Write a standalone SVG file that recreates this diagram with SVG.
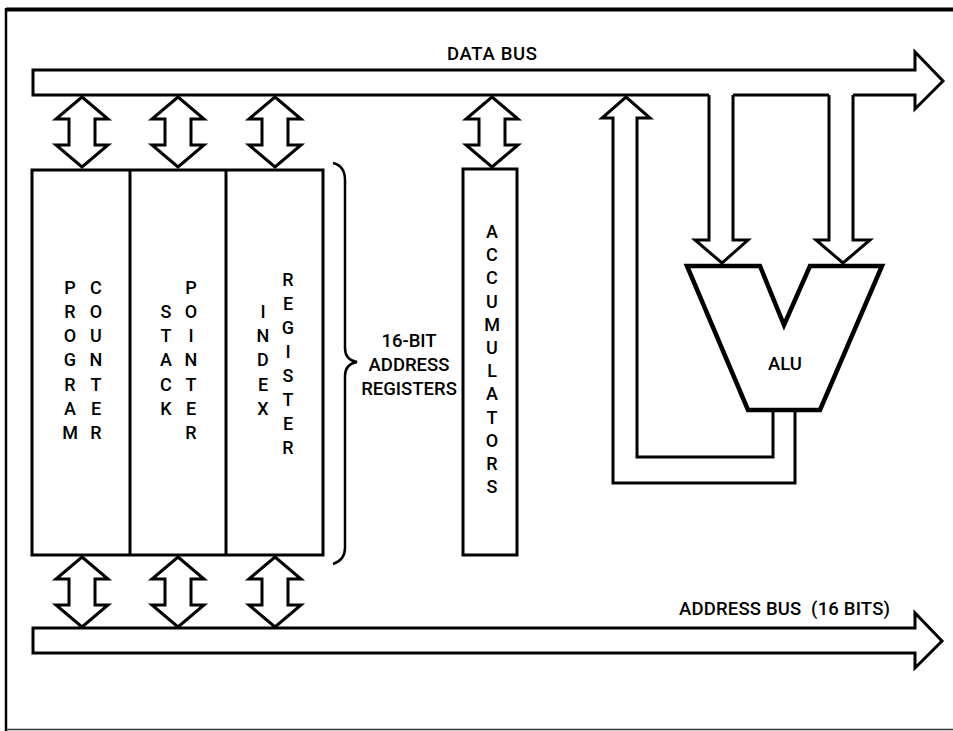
<svg xmlns="http://www.w3.org/2000/svg" xmlns:xlink="http://www.w3.org/1999/xlink" width="953" height="731" viewBox="0 0 953 731">
<style>
.ln{fill:none;stroke:#000;stroke-width:3;stroke-linejoin:miter}
.box{fill:#fff;stroke:#000;stroke-width:3}
.t{font-family:Roboto,"Liberation Sans",Arial,sans-serif;font-weight:500;font-size:18.5px;fill:#000}
.v{font-family:Roboto,"Liberation Sans",Arial,sans-serif;font-weight:500;font-size:18px;fill:#000;text-anchor:middle}
</style>
<defs>
<path id="bi" d="M0,0 L26,22 L13,22 L13,48 L26,48 L0,70 L-26,48 L-13,48 L-13,22 L-26,22 Z" fill="#fff" stroke="#000" stroke-width="3" stroke-linejoin="miter"/>
</defs>
<rect width="953" height="731" fill="#fff"/>
<g id="frame">
<line x1="6" y1="9.5" x2="953" y2="9.5" stroke="#000" stroke-width="4"/>
<line x1="6" y1="8" x2="6" y2="731" stroke="#000" stroke-width="2.5"/>
<line x1="6" y1="729.5" x2="953" y2="729.5" stroke="#333" stroke-width="1.5"/>
</g>
<g id="data-bus">
<path class="ln" d="M709,95 L33,95 L33,70 L915,70 L915,52 L943,81 L915,109 L915,95 L853,95"/>
<path class="ln" d="M733,95 L829,95"/>
<text class="t" x="447" y="60" textLength="90">DATA BUS</text>
</g>
<g id="address-bus">
<path class="ln" d="M33,628 L915,628 L915,613 L942,641 L915,668 L915,653 L33,653 Z"/>
<text class="t" x="679" y="615" textLength="211" xml:space="preserve">ADDRESS BUS  (16 BITS)</text>
</g>
<g id="address-registers">
<rect class="box" x="32" y="170" width="291" height="385"/>
<line class="ln" x1="130" y1="170" x2="130" y2="555"/>
<line class="ln" x1="226" y1="170" x2="226" y2="555"/>
<g id="program-counter">
<text class="v"><tspan x="70" y="294">P</tspan><tspan x="70" y="318">R</tspan><tspan x="70" y="342">O</tspan><tspan x="70" y="366">G</tspan><tspan x="70" y="391">R</tspan><tspan x="70" y="415">A</tspan><tspan x="70" y="439">M</tspan></text>
<text class="v"><tspan x="96" y="294">C</tspan><tspan x="96" y="318">O</tspan><tspan x="96" y="342">U</tspan><tspan x="96" y="366">N</tspan><tspan x="96" y="391">T</tspan><tspan x="96" y="415">E</tspan><tspan x="96" y="439">R</tspan></text>
</g>
<g id="stack-pointer">
<text class="v"><tspan x="166" y="318">S</tspan><tspan x="166" y="342">T</tspan><tspan x="166" y="366">A</tspan><tspan x="166" y="391">C</tspan><tspan x="166" y="415">K</tspan></text>
<text class="v"><tspan x="191" y="294">P</tspan><tspan x="191" y="318">O</tspan><tspan x="191" y="342">I</tspan><tspan x="191" y="366">N</tspan><tspan x="191" y="391">T</tspan><tspan x="191" y="415">E</tspan><tspan x="191" y="439">R</tspan></text>
</g>
<g id="index-register">
<text class="v"><tspan x="263" y="318">I</tspan><tspan x="263" y="342">N</tspan><tspan x="263" y="366">D</tspan><tspan x="263" y="391">E</tspan><tspan x="263" y="415">X</tspan></text>
<text class="v"><tspan x="288" y="286">R</tspan><tspan x="288" y="310">E</tspan><tspan x="288" y="334">G</tspan><tspan x="288" y="358">I</tspan><tspan x="288" y="382">S</tspan><tspan x="288" y="406">T</tspan><tspan x="288" y="430">E</tspan><tspan x="288" y="454">R</tspan></text>
</g>
</g>
<g id="brace-label">
<path d="M333,163 Q345,166 345,180 L345,348 Q345,360 357,362 Q345,364 345,376 L345,548 Q345,560 333,564" fill="none" stroke="#000" stroke-width="2.5"/>
<text class="t" text-anchor="middle"><tspan x="409" y="347">16-BIT</tspan><tspan x="409" y="371">ADDRESS</tspan><tspan x="409" y="395">REGISTERS</tspan></text>
</g>
<g id="accumulators">
<rect class="box" x="463" y="169" width="54" height="386"/>
<text class="v"><tspan x="492" y="238">A</tspan><tspan x="492" y="261">C</tspan><tspan x="492" y="284">C</tspan><tspan x="492" y="308">U</tspan><tspan x="492" y="331">M</tspan><tspan x="492" y="354">U</tspan><tspan x="492" y="377">L</tspan><tspan x="492" y="400">A</tspan><tspan x="492" y="424">T</tspan><tspan x="492" y="447">O</tspan><tspan x="492" y="470">R</tspan><tspan x="492" y="493">S</tspan></text>
</g>
<g id="alu">
<path d="M687,266 L760,266 L784,325 L810,266 L882,266 L820,410 L748,410 Z" fill="#fff" stroke="#000" stroke-width="4.5" stroke-linejoin="miter"/>
<text class="t" x="785" y="370" text-anchor="middle">ALU</text>
</g>
<g id="connectors">
<use xlink:href="#bi" x="82" y="97"/>
<use xlink:href="#bi" x="178" y="97"/>
<use xlink:href="#bi" x="275" y="97"/>
<use xlink:href="#bi" x="492" y="97"/>
<use xlink:href="#bi" x="82" y="557"/>
<use xlink:href="#bi" x="178" y="557"/>
<use xlink:href="#bi" x="275" y="557"/>
<path class="ln" d="M709,95 L709,240 L695,240 L722,263 L748,240 L733,240 L733,95"/>
<path class="ln" d="M829,95 L829,240 L816,240 L843,263 L870,240 L853,240 L853,95"/>
<path class="ln" d="M773,410 L773,457 L637,457 L637,118 L650,118 L626,97 L602,118 L613,118 L613,483 L795,483 L795,410"/>
</g>
</svg>
